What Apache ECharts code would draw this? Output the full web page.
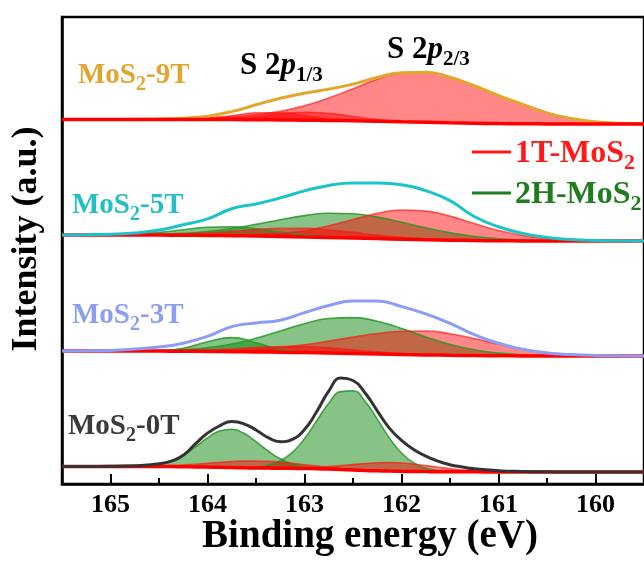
<!DOCTYPE html>
<html><head><meta charset="utf-8">
<script src="https://cdn.jsdelivr.net/npm/echarts@6/dist/echarts.min.js"></script>
<style>html,body{margin:0;padding:0;background:#fff}#c{width:644px;height:565px}</style>
</head><body><div id="c"></div>
<script>
// ---- data (binding energy grids, eV) ----
const energy = [165.5,165.25,165.0,164.75,164.5,164.25,164.0,163.75,163.5,163.25,163.0,162.75,162.5,162.25,162.0,161.75,161.5,161.25,161.0,160.75,160.5,160.25,160.0,159.75,159.5];
const energy0T = [165.5,165.25,165.0,164.75,164.625,164.5,164.375,164.25,164.125,164.0,163.875,163.75,163.625,163.5,163.375,163.25,163.125,163.0,162.875,162.75,162.625,162.5,162.375,162.25,162.125,162.0,161.875,161.75,161.625,161.5,161.375,161.25,161.0,160.75,160.5,160.25,160.0,159.75,159.5];
const tickLabels = [160,161,162,163,164,165];
const minorTicks = [160.5,161.5,162.5,163.5,164.5];
const sampleNames = ['MoS2-9T','MoS2-5T','MoS2-3T','MoS2-0T'];
const panelOffsets = [360, 243, 128, 12];

// MoS2-9T
const bg9T  = [4.5,4.5,4.5,4.5,4.5,4.5,4.45,4.4,4.3,4.1,3.85,3.55,3.2,2.75,2.2,1.7,1.2,0.75,0.4,0.2,0.1,0,0,0,0];
const env9T = [0,0,0,0.2,0.5,1.3,3.4,8.0,14.9,21.7,26.9,31.3,36.7,43.7,49,50.1,45.5,37.5,28,19.5,11,5.5,2.2,0.8,0.3];
const red9T_a = [0,0,0,0.2,0.5,1.0,1.8,3.0,5.0,8.5,14.5,22.5,32,42,48.5,50,45.5,37.5,28,19.5,11,5.5,2.2,0.8,0.3];
const red9T_b = [0,0,0,0,0,0.3,1.3,3.9,6.8,7.2,4.5,1.7,0.4,0,0,0,0,0,0,0,0,0,0,0,0];
const red9T_c = [0,0,0,0,0,0,0.25,1.1,3.1,6.0,7.9,7.1,4.3,1.7,0.5,0.1,0,0,0,0,0,0,0,0,0];

// MoS2-5T
const bg5T  = [6,6,6,5.95,5.9,5.8,5.6,5.3,5.0,4.6,4.1,3.6,3.0,2.4,1.85,1.3,0.85,0.5,0.25,0.1,0.05,0,0,0,0];
const env5T = [0,0.3,0.8,2,5,10.5,16.5,27,32,38.5,46,52,55,55.5,54.5,49,39.5,24,14,7.5,3.5,1.5,0.6,0.2,0];
const red5T_a = [0,0,0,0,0,0,0.1,0.35,1.05,2.75,6.1,11.5,18.5,25.2,29.1,28.6,24.0,17.0,10.3,5.3,2.3,0.85,0.27,0.08,0];
const red5T_b = [0,0,0.04,0.15,0.46,1.15,2.4,4.3,6.4,8.0,8.5,7.5,5.6,3.5,1.8,0.8,0.3,0.1,0,0,0,0,0,0,0];
const grn5T_a = [0,0,0.1,0.3,0.8,1.9,3.9,7.2,11.6,16.7,21.3,24.1,24.2,21.5,16.9,11.8,7.3,4.0,2.0,0.8,0.3,0.1,0,0,0];
const grn5T_b = [0,0.05,0.25,1.0,2.7,5.5,8.2,8.9,7.2,4.3,1.9,0.6,0.1,0,0,0,0,0,0,0,0,0,0,0,0];

// MoS2-3T
const bg3T  = [5,5,5,4.95,4.9,4.8,4.6,4.35,4.1,3.8,3.4,2.95,2.5,2.0,1.5,1.1,0.7,0.4,0.2,0.1,0.05,0,0,0,0];
const env3T = [0,0.2,0.6,2,4,8,15,25,29,32,40,47.5,52.5,53,48,41,32,21,12.5,6.5,3,1.5,0.6,0.2,0];
const grn3T_a = [0,0,0.05,0.2,0.6,1.6,3.7,7.6,13.6,21.2,28.9,34.5,35.9,32.7,26.0,18.0,10.9,5.8,2.7,1.1,0.4,0.1,0,0,0];
const grn3T_b = [0,0,0,0.03,0.4,3.0,9.7,14,9.1,2.7,0.35,0,0,0,0,0,0,0,0,0,0,0,0,0,0];
const red3T_a = [0,0,0,0,0.05,0.2,0.55,1.2,2.5,4.6,7.8,11.9,16.4,20.5,23.3,23.9,21.6,17.0,11.5,6.8,3.5,1.5,0.6,0.2,0.05];
const red3T_b = [0,0,0,0.05,0.2,0.55,1.35,2.7,4.3,5.6,6.0,5.2,3.6,2.1,1.0,0.4,0.1,0,0,0,0,0,0,0,0];

// MoS2-0T (finer grid)
const bg0T  = [5.5,5.5,5.5,5.5,5.48,5.45,5.4,5.3,5.1,4.9,4.65,4.4,4.2,4.0,3.9,3.8,3.7,3.5,3.25,2.9,2.45,2.0,1.55,1.2,0.9,0.7,0.55,0.4,0.32,0.25,0.2,0.15,0.1,0.05,0,0,0,0,0];
const env0T = [0,0,0.2,0.8,1.5,2.8,5.5,11.5,23,34,41.5,46,44,38,30.5,26.5,29,39,57,78,91.5,89.5,77.5,60,43,31,22,15.5,10.5,7,4.8,3,1.2,0.5,0.2,0,0,0,0];
const grn0T_a = [0,0,0,0,0,0,0,0,0,0,0,0.07,0.28,0.99,2.9,7.4,15.9,29.8,47.8,65.9,77.9,79.1,69.0,51.7,33.2,18.3,8.6,3.5,1.25,0.36,0.1,0,0,0,0,0,0,0,0];
const grn0T_b = [0,0,0,0.26,0.85,2.4,5.7,11.5,20.0,29.2,36.3,38.4,34.5,26.3,17.1,9.4,4.4,1.8,0.6,0.17,0.04,0,0,0,0,0,0,0,0,0,0,0,0,0,0,0,0,0,0];
const red0T_a = [0,0,0.03,0.15,0.31,0.6,1.06,1.75,2.67,3.8,4.95,6.0,6.7,7,6.7,6.0,4.95,3.8,2.67,1.75,1.06,0.6,0.31,0.15,0.06,0,0,0,0,0,0,0,0,0,0,0,0,0,0];
const red0T_b = [0,0,0,0,0,0,0,0,0,0,0,0,0,0,0.09,0.2,0.43,0.86,1.55,2.6,3.9,5.4,6.9,8.0,8.5,8.3,7.4,6.0,4.5,3.1,1.9,1.1,0.3,0.05,0,0,0,0,0];

const grids = [energy, energy, energy, energy0T];
const backgrounds = [bg9T, bg5T, bg3T, bg0T];
const envelopes = [env9T, env5T, env3T, env0T];
const redPeaks = [[red9T_a, red9T_b, red9T_c], [red5T_a, red5T_b], [red3T_a, red3T_b], [red0T_a, red0T_b]];
const greenPeaks = [[], [grn5T_a, grn5T_b], [grn3T_a, grn3T_b], [grn0T_a, grn0T_b]];
const legendNames = ['1T-MoS2', '2H-MoS2'];

// ---- styles ----
const FONT = '"Liberation Serif","Times New Roman",serif';
const envColors = ['#E3A62B', '#1CC3C8', '#8C9DF7', '#333333'];
const labelColors = ['#E2A52C', '#22C0C5', '#8C9DF2', '#3A3A3A'];
const RED_FILL = 'rgba(255,0,0,0.47)', RED_LINE = 'rgba(255,20,20,0.65)';
const GRN_FILL = 'rgba(0,128,0,0.47)', GRN_LINE = 'rgba(40,150,40,0.85)';

const series = [];
// stacked series use [y, x] tuples with encode so that the y dimension is the stacked one
const ENC = { x: 1, y: 0 };

sampleNames.forEach((name, k) => {
  const E = grids[k];
  const off = panelOffsets[k];
  const bg = backgrounds[k];
  const env = envelopes[k];
  const baseData = E.map((e, i) => [off + bg[i], e]);
  const envSeries = {
    type: 'line', name: name, encode: ENC, data: E.map((e, i) => [off + bg[i] + env[i], e]),
    smooth: 0.5, symbol: 'none', lineStyle: { color: envColors[k], width: 3 }, z: 3
  };
  if (k === 0) series.push(envSeries);
  const addPeak = (pk, j, fill, line, tag) => {
    const st = 'p' + k + tag + j;
    series.push({ type: 'line', stack: st, stackStrategy: 'all', encode: ENC, data: baseData, smooth: 0.5, symbol: 'none',
      lineStyle: { opacity: 0, width: 0 }, silent: true, z: 2 });
    series.push({ type: 'line', stack: st, stackStrategy: 'all', encode: ENC, data: E.map((e, i) => [pk[i], e]), smooth: 0.5, symbol: 'none',
      lineStyle: { color: line, width: 1.6 }, areaStyle: { color: fill, opacity: 1 }, z: 2 });
  };
  greenPeaks[k].forEach((pk, j) => addPeak(pk, j, GRN_FILL, GRN_LINE, 'g'));
  redPeaks[k].forEach((pk, j) => addPeak(pk, j, RED_FILL, RED_LINE, 'r'));
  series.push({ type: 'line', encode: ENC, data: baseData, smooth: 0.5, symbol: 'none', lineStyle: { color: '#FF0000', width: 3.5 }, z: 3 });
  if (k !== 0) series.push(envSeries);
});

function rtext(text, x, y, color, fs, align, rot) {
  return { type: 'text', x: x, y: y, rotation: rot || 0, z: 100, style: {
    text: text, fill: color, fontSize: fs, fontWeight: 'bold', fontFamily: FONT,
    align: align || 'left', verticalAlign: 'middle',
    rich: {
      s: { fontSize: Math.round(fs * 0.68), fontWeight: 'bold', fontFamily: FONT, fill: color, padding: [Math.round(fs * 0.6), 0, 0, 0] },
      i: { fontSize: fs, fontStyle: 'italic', fontWeight: 'bold', fontFamily: FONT, fill: color }
    } } };
}
function sub(name) { return name.replace('S2', 'S{s|2}'); }

const graphic = [
  rtext(sub(sampleNames[0]), 78, 76, labelColors[0], 29),
  rtext(sub(sampleNames[1]), 72, 206, labelColors[1], 29),
  rtext(sub(sampleNames[2]), 72, 316, labelColors[2], 29),
  rtext(sub(sampleNames[3]), 68, 427, labelColors[3], 29),
  rtext('S 2{i|p}{s|1/3}', 240, 66, '#000', 31),
  rtext('S 2{i|p}{s|2/3}', 387, 50, '#000', 31),
  { type: 'line', z: 100, shape: { x1: 472, y1: 152, x2: 511, y2: 152 }, style: { stroke: '#FF1A1A', lineWidth: 3 } },
  rtext(sub(legendNames[0]), 515, 154, '#FF1A1A', 32),
  { type: 'line', z: 100, shape: { x1: 472, y1: 193, x2: 511, y2: 193 }, style: { stroke: '#1E7D1E', lineWidth: 3 } },
  rtext(sub(legendNames[1]), 515, 195, '#1E7D1E', 32),
  rtext('Intensity (a.u.)', 27, 239, '#000', 36, 'center', Math.PI / 2),
  rtext('Binding energy (eV)', 370, 537, '#000', 39, 'center')
];

const chart = echarts.init(document.getElementById('c'), null, { renderer: 'canvas' });
chart.setOption({
  animation: false,
  backgroundColor: '#fff',
  grid: { left: 62, right: 0, top: 17, bottom: 81, show: true, borderColor: '#000', borderWidth: 2.5, backgroundColor: 'transparent' },
  xAxis: [
    { type: 'value', min: 159.5, max: 165.5, inverse: true, position: 'bottom',
      axisLine: { show: true, onZero: false, lineStyle: { color: '#000', width: 2.5 } },
      axisTick: { show: true, inside: true, length: 10, customValues: tickLabels, lineStyle: { color: '#000', width: 2 } },
      axisLabel: { customValues: tickLabels, color: '#000', fontSize: 26, fontWeight: 'bold', fontFamily: FONT, margin: 8 },
      splitLine: { show: false } },
    { type: 'value', min: 159.5, max: 165.5, inverse: true, position: 'bottom',
      axisLine: { show: false }, axisLabel: { show: false }, splitLine: { show: false },
      axisTick: { show: true, inside: true, length: 6, customValues: minorTicks, lineStyle: { color: '#000', width: 2 } } }
  ],
  yAxis: { type: 'value', min: 0, max: 467,
    axisLine: { show: true, lineStyle: { color: '#000', width: 2.5 } },
    axisTick: { show: false }, axisLabel: { show: false }, splitLine: { show: false } },
  series: series,
  graphic: graphic
});
</script></body></html>
